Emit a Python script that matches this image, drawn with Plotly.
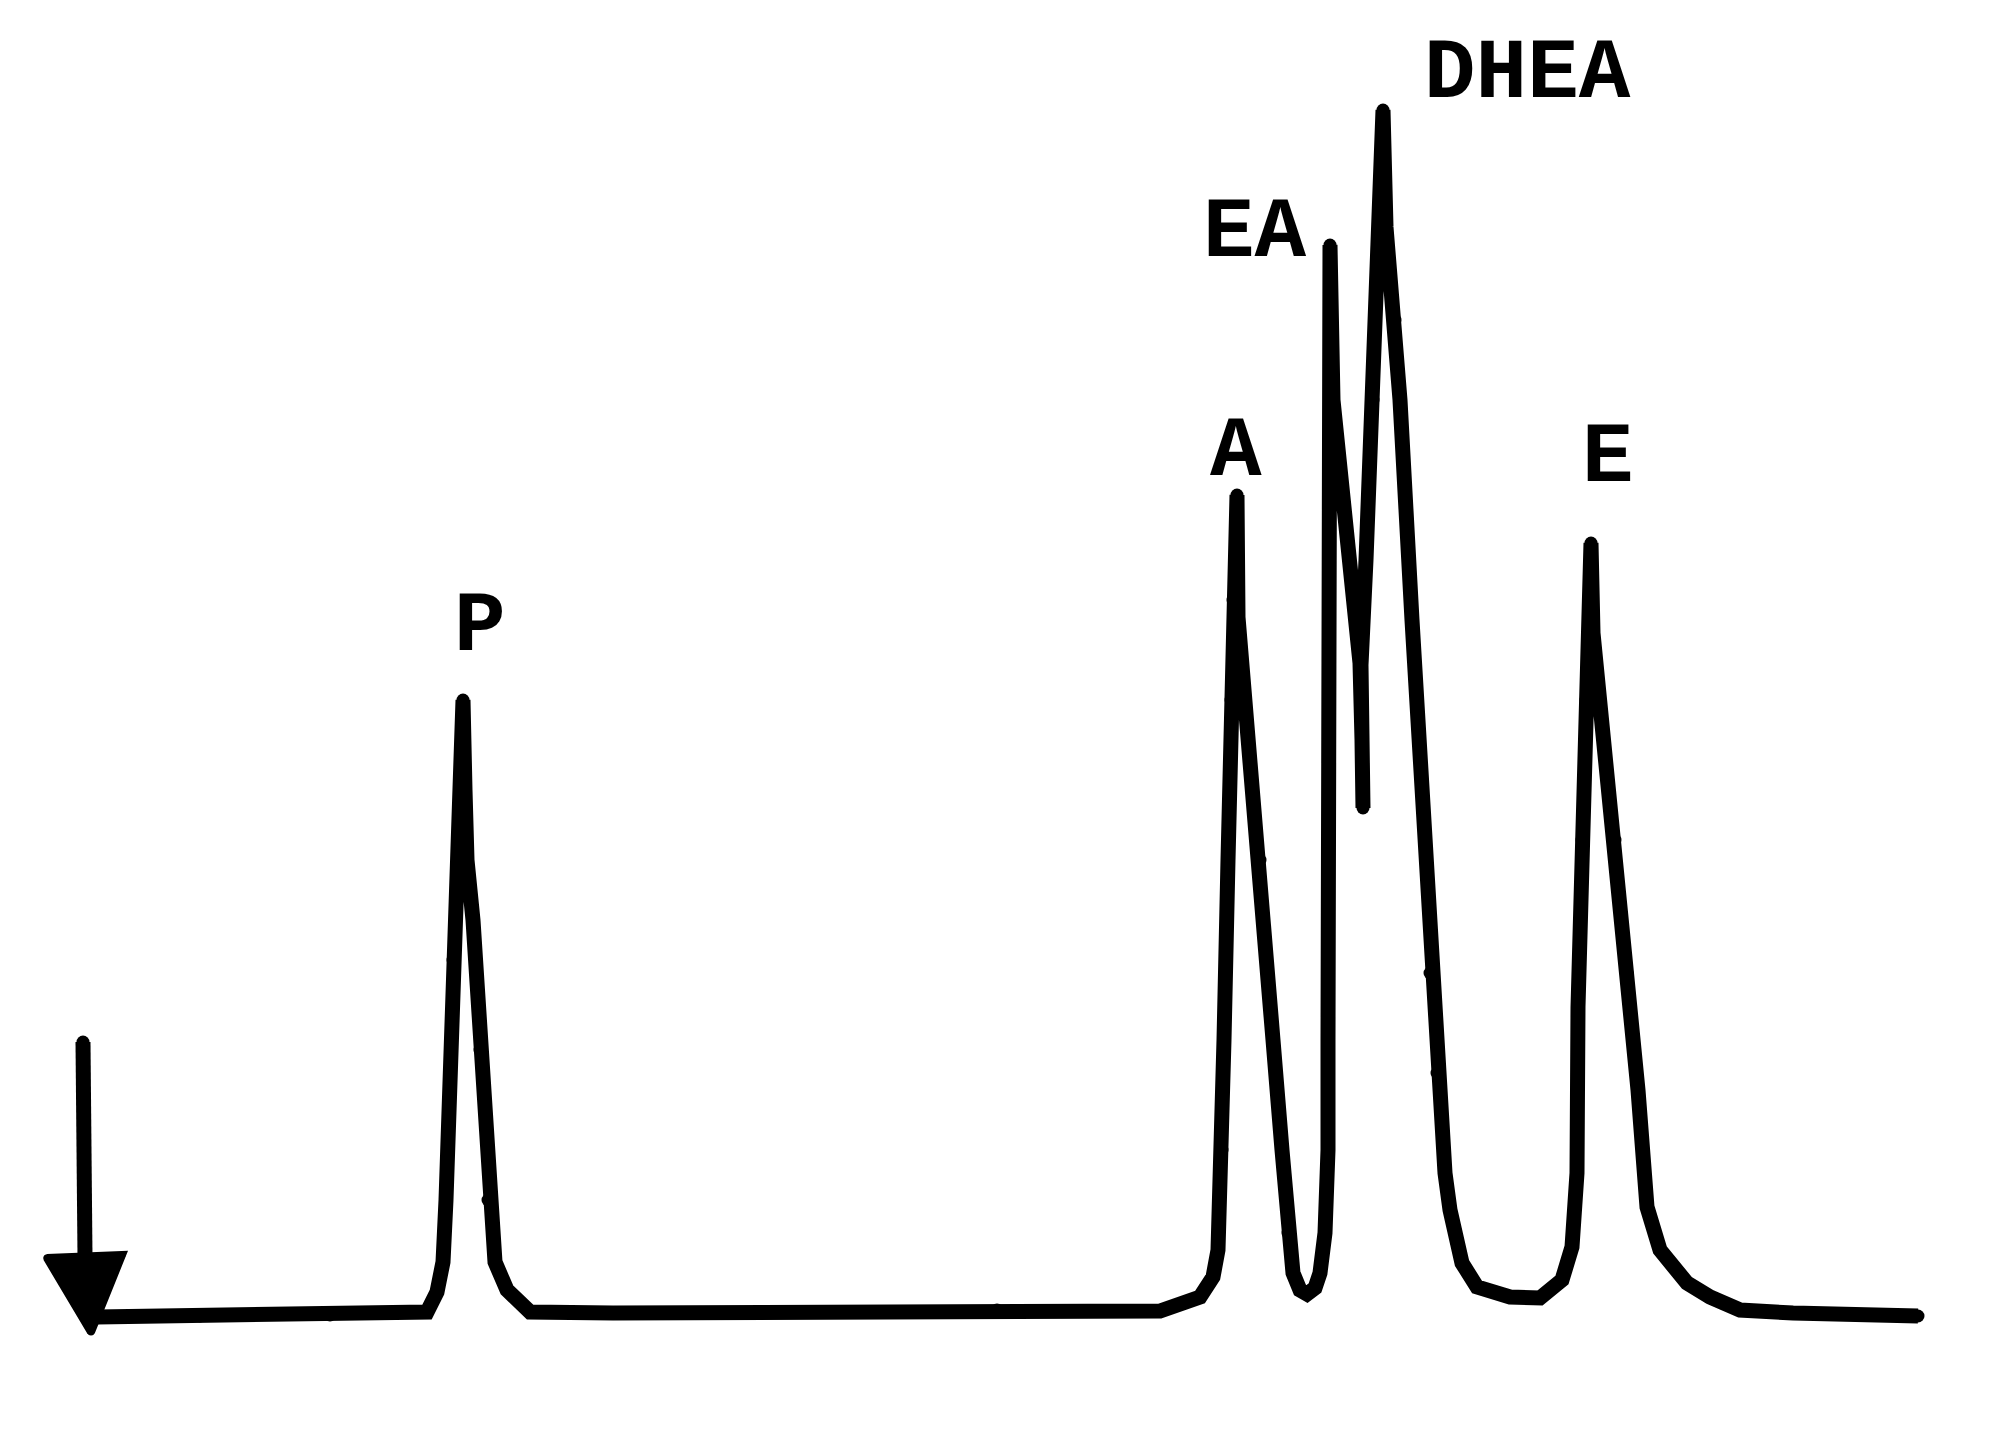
import plotly.graph_objects as go

# Chromatogram trace (retention time in arbitrary units, detector response in arbitrary units)
time = [97, 200, 330, 427, 437, 443, 446, 450, 453, 457, 460, 463, 465, 467, 473, 480, 488, 495,
        507, 530, 613, 813, 997, 1160, 1200, 1213, 1218, 1222, 1224, 1228, 1231, 1233, 1237,
        1238, 1260, 1273, 1282, 1288, 1293, 1300, 1307, 1315, 1320, 1325, 1328, 1328, 1328,
        1329, 1330, 1330, 1333, 1360, 1362, 1363, 1362, 1361, 1366, 1373, 1375, 1380, 1383,
        1386, 1395, 1400, 1412, 1425, 1430, 1437, 1445, 1450, 1462, 1477, 1510, 1540, 1562,
        1572, 1577, 1578, 1582, 1586, 1589, 1591, 1593, 1615, 1627, 1638, 1647, 1660, 1687,
        1710, 1740, 1793, 1918]
response = [0, 1, 2, 5, 25, 55, 117, 239, 357, 417, 537, 617, 527, 457, 397, 267, 117, 55,
            27, 5, 4, 5, 7, 6, 20, 40, 67, 167, 277, 457, 617, 717, 822,
            700, 457, 277, 167, 84, 44, 27, 23, 29, 44, 84, 167, 277, 457,
            717, 917, 1072, 917, 654, 577, 509, 557, 652, 757, 917, 997, 1090, 1207,
            1090, 997, 917, 697, 477, 344, 244, 144, 107, 54, 30, 20, 19, 37,
            70, 144, 310, 477, 617, 717, 774, 684, 477, 344, 227, 110, 67, 34,
            20, 7, 4, 1]

# Injection marker (arrow)
inj_time = [83, 85]
inj_resp = [275, 60]
head_time = [47, 122, 91, 47]
head_resp = [59, 62, -15, 59]

# Peak labels
peak_names = ["P", "A", "EA", "DHEA", "E"]
label_time = [480, 1236, 1255, 1527, 1608]
label_resp = [690, 865, 1084, 1243, 859]

LW = 15

fig = go.Figure()
fig.add_trace(go.Scatter(x=time, y=response, mode="lines+markers",
                         line=dict(color="black", width=LW),
                         marker=dict(color="black", size=LW - 2, line=dict(width=0)),
                         hoverinfo="skip"))
fig.add_trace(go.Scatter(x=inj_time, y=inj_resp, mode="lines+markers",
                         line=dict(color="black", width=LW),
                         marker=dict(color="black", size=LW - 2, line=dict(width=0)),
                         hoverinfo="skip"))
fig.add_trace(go.Scatter(x=head_time, y=head_resp, mode="lines+markers", fill="toself",
                         fillcolor="black", line=dict(color="black", width=8),
                         marker=dict(color="black", size=7, line=dict(width=0)),
                         hoverinfo="skip"))

for name, t, r in zip(peak_names, label_time, label_resp):
    fig.add_annotation(x=t, y=r, text="<b>" + name + "</b>", showarrow=False,
                       font=dict(family="Liberation Mono", size=86, color="black"),
                       xanchor="center", yanchor="middle")

fig.update_layout(
    width=1973, height=1418,
    margin=dict(l=0, r=0, t=0, b=0),
    paper_bgcolor="white", plot_bgcolor="white",
    showlegend=False,
    xaxis=dict(range=[8, 1981], visible=False, fixedrange=True),
    yaxis=dict(range=[-109, 1309], visible=False, fixedrange=True),
)

fig.write_html("out.html")
